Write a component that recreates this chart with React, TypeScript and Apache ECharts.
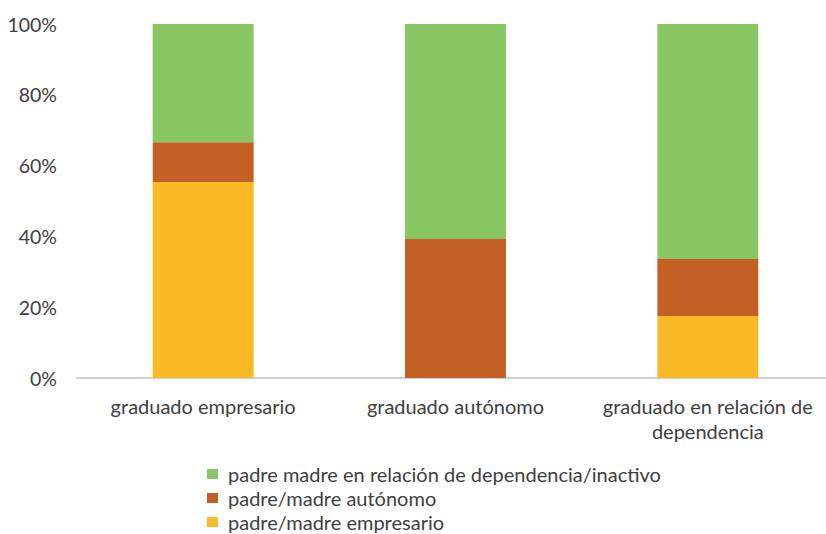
import React, { useEffect, useRef } from "react";
import * as echarts from "echarts";

const categories = [
  "graduado empresario",
  "graduado autónomo",
  "graduado en relación de\ndependencia",
];
const yTicks = [0, 20, 40, 60, 80, 100];
const seriesNames = [
  "padre/madre empresario",
  "padre/madre autónomo",
  "padre madre en relación de dependencia/inactivo",
];
const empresario = [55.4, 0, 17.5];
const autonomo = [11.2, 39.3, 16.1];
const dependencia = [33.4, 60.7, 66.4];
const colors = ["#FBBA25", "#C46026", "#88C664"];

const FONT = "Lato";

export default function App() {
  const ref = useRef<HTMLDivElement>(null);
  useEffect(() => {
    if (!ref.current) return;
    const chart = echarts.init(ref.current, undefined, { renderer: "svg" });
    const values = [empresario, autonomo, dependencia];
    chart.setOption({
      animation: false,
      backgroundColor: "#ffffff",
      textStyle: { fontFamily: FONT },
      grid: { left: 77, right: 6, top: 24, height: 354, containLabel: false },
      legend: {
        orient: "vertical",
        left: 207,
        top: 462,
        height: 80,
        padding: 0,
        itemWidth: 11,
        itemHeight: 10,
        itemGap: 0,
        icon: "rect",
        data: [seriesNames[2], seriesNames[1], seriesNames[0]],
        textStyle: {
          fontFamily: FONT,
          fontSize: 20,
          color: "#404040",
          lineHeight: 24,
          padding: [0, 0, 0, 5],
        },
      },
      xAxis: {
        type: "category",
        data: categories,
        axisLine: { show: true, lineStyle: { color: "#BFBFBF", width: 1.5 } },
        axisTick: { show: false },
        axisLabel: {
          fontFamily: FONT,
          fontSize: 20,
          color: "#404040",
          margin: 15,
          lineHeight: 25,
          interval: 0,
        },
      },
      yAxis: {
        type: "value",
        min: 0,
        max: 100,
        interval: 20,
        splitLine: { show: false },
        axisLine: { show: false },
        axisTick: { show: false },
        axisLabel: {
          fontFamily: FONT,
          fontSize: 19.5,
          color: "#404040",
          margin: 20,
          formatter: (v: number) => (yTicks.includes(v) ? `${v}%` : ""),
        },
      },
      series: seriesNames.map((name, i) => ({
        name,
        type: "bar",
        stack: "total",
        barWidth: "40%",
        itemStyle: { color: colors[i] },
        data: values[i],
      })),
    });
    return () => chart.dispose();
  }, []);
  return (
    <div style={{ position: "fixed", left: 0, top: 0, width: 826, height: 534, overflow: "hidden" }}>
      <div ref={ref} style={{ width: 840, height: 534 }} />
    </div>
  );
}
